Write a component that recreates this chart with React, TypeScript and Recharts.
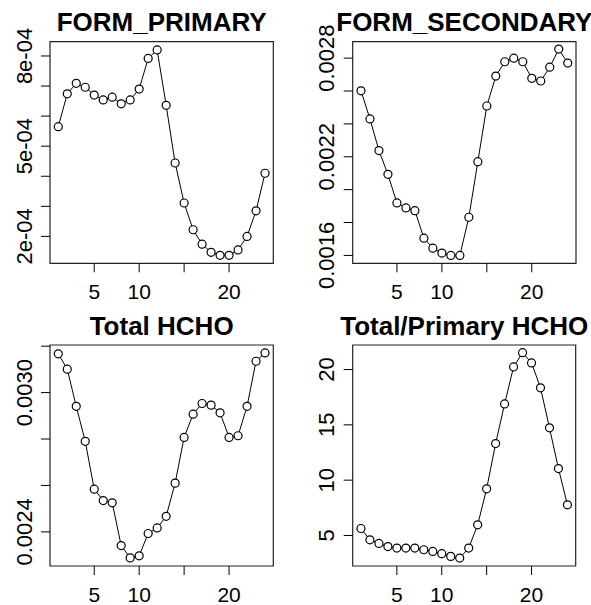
import React from 'react';
import { LineChart, Line, XAxis, YAxis, ReferenceArea } from 'recharts';

const hours = [1, 2, 3, 4, 5, 6, 7, 8, 9, 10, 11, 12, 13, 14, 15, 16, 17, 18, 19, 20, 21, 22, 23, 24];

const formPrimary = [
  5.65e-4, 6.74e-4, 7.09e-4, 6.96e-4, 6.7e-4, 6.54e-4, 6.63e-4, 6.41e-4, 6.54e-4, 6.9e-4, 7.92e-4, 8.2e-4,
  6.36e-4, 4.44e-4, 3.11e-4, 2.22e-4, 1.74e-4, 1.47e-4, 1.37e-4, 1.37e-4, 1.55e-4, 2.0e-4, 2.85e-4, 4.1e-4,
];

const formSecondary = [
  0.002601, 0.00243, 0.002238, 0.002093, 0.001919, 0.001889, 0.001872, 0.001705, 0.001644, 0.001614, 0.0016, 0.0016,
  0.001832, 0.00217, 0.002509, 0.002691, 0.002778, 0.0028, 0.002778, 0.002677, 0.002661, 0.002745, 0.002855, 0.00277,
];

const totalHCHO = [
  0.003167, 0.003101, 0.002941, 0.00279, 0.002584, 0.002535, 0.002525, 0.002341, 0.002288, 0.002297, 0.002393, 0.002417,
  0.002467, 0.00261, 0.002807, 0.002907, 0.002953, 0.002946, 0.002913, 0.002807, 0.002814, 0.002941, 0.003135, 0.003171,
];

const totalPrimaryRatio = [
  5.63, 4.61, 4.28, 4.0, 3.86, 3.86, 3.86, 3.71, 3.56, 3.35, 3.11, 2.96,
  3.86, 5.96, 9.22, 13.31, 16.89, 20.24, 21.53, 20.6, 18.35, 14.73, 11.05, 7.77,
];

const titles = ['FORM_PRIMARY', 'FORM_SECONDARY', 'Total HCHO', 'Total/Primary HCHO'];

const xTicks = [5, 10, 15, 20];
const xTickLabels = ['5', '10', '', '20'];

const yTicksPrimary = [0.0002, 0.0003, 0.0004, 0.0005, 0.0006, 0.0007, 0.0008];
const yLabelsPrimary = ['2e-04', '', '', '5e-04', '', '', '8e-04'];

const yTicksSecondary = [0.0016, 0.0018, 0.002, 0.0022, 0.0024, 0.0026, 0.0028];
const yLabelsSecondary = ['0.0016', '', '', '0.0022', '', '', '0.0028'];

const yTicksTotal = [0.0024, 0.0026, 0.0028, 0.003, 0.0032];
const yLabelsTotal = ['0.0024', '', '', '0.0030', ''];

const yTicksRatio = [5, 10, 15, 20];
const yLabelsRatio = ['5', '10', '15', '20'];

const FONT = '"Liberation Sans", Arial, Helvetica, sans-serif';
const W = 591;
const H = 605;
const X_DOMAIN: [number, number] = [0.08, 24.92];

type PanelDef = {
  values: number[];
  yDomain: [number, number];
  yTicks: number[];
  yLabels: string[];
  box: { l: number; t: number; r: number; b: number };
  title: string;
};

const panels: PanelDef[] = [
  { values: formPrimary, yDomain: [1.105e-4, 8.475e-4], yTicks: yTicksPrimary, yLabels: yLabelsPrimary, box: { l: 50, t: 41.7, r: 273.3, b: 263.3 }, title: titles[0] },
  { values: formSecondary, yDomain: [0.001552, 0.0029], yTicks: yTicksSecondary, yLabels: yLabelsSecondary, box: { l: 352.7, t: 41.7, r: 576, b: 263.3 }, title: titles[1] },
  { values: totalHCHO, yDomain: [0.002253, 0.003205], yTicks: yTicksTotal, yLabels: yLabelsTotal, box: { l: 50, t: 345, r: 273.3, b: 566 }, title: titles[2] },
  { values: totalPrimaryRatio, yDomain: [2.24, 22.22], yTicks: yTicksRatio, yLabels: yLabelsRatio, box: { l: 352.7, t: 345, r: 575.7, b: 566 }, title: titles[3] },
];

const findLabel = (ticks: number[], labels: string[], v: number) => {
  const i = ticks.findIndex((t) => Math.abs(t - v) <= 1e-9 * Math.max(1, Math.abs(t)));
  return i >= 0 ? labels[i] : '';
};

const makeXTick = (ticks: number[], labels: string[]) => (props: any) => {
  const { x, y, payload } = props;
  const label = findLabel(ticks, labels, payload.value);
  if (!label) return <g />;
  return (
    <text x={x} y={y} dy="0.72em" textAnchor="middle" fontSize={21} fontFamily={FONT} fill="#000">
      {label}
    </text>
  );
};

const makeYTick = (ticks: number[], labels: string[]) => (props: any) => {
  const { x, y, payload } = props;
  const label = findLabel(ticks, labels, payload.value);
  if (!label) return <g />;
  return (
    <text transform={`translate(${x},${y}) rotate(-90)`} textAnchor="middle" fontSize={22} fontFamily={FONT} fill="#000">
      {label}
    </text>
  );
};

const YW = 40;
const XH = 40;

function Panel({ p }: { p: PanelDef }) {
  const data = hours.map((h, i) => ({ x: h, y: p.values[i] }));
  const margin = { top: p.box.t, left: p.box.l - YW, right: W - p.box.r, bottom: H - p.box.b - XH };
  return (
    <div style={{ position: 'absolute', left: 0, top: 0 }}>
      <LineChart width={W} height={H} data={data} margin={margin}>
        <XAxis
          dataKey="x"
          type="number"
          domain={X_DOMAIN}
          allowDataOverflow
          ticks={xTicks}
          interval={0}
          height={XH}
          axisLine={false}
          tickSize={9}
          tickMargin={11.5}
          tickLine={{ stroke: '#000', strokeWidth: 1 }}
          tick={makeXTick(xTicks, xTickLabels)}
        />
        <YAxis
          type="number"
          domain={p.yDomain}
          allowDataOverflow
          ticks={p.yTicks}
          interval={0}
          width={YW}
          axisLine={false}
          tickSize={9}
          tickMargin={9.5}
          tickLine={{ stroke: '#000', strokeWidth: 1 }}
          tick={makeYTick(p.yTicks, p.yLabels)}
        />
        <ReferenceArea
          x1={X_DOMAIN[0]}
          x2={X_DOMAIN[1]}
          y1={p.yDomain[0]}
          y2={p.yDomain[1]}
          fill="none"
          fillOpacity={0}
          stroke="#222"
          strokeWidth={1.2}
          ifOverflow="visible"
        />
        <Line
          type="linear"
          dataKey="y"
          stroke="#000"
          strokeWidth={1}
          dot={{ r: 4, fill: '#fff', stroke: '#000', strokeWidth: 1.2 }}
          activeDot={false}
          isAnimationActive={false}
        />
      </LineChart>
    </div>
  );
}

export default function App() {
  return (
    <div style={{ position: 'absolute', left: 0, top: 0, width: W, height: H, background: '#fff', overflow: 'hidden' }}>
      {panels.map((p, i) => (
        <Panel key={i} p={p} />
      ))}
      <svg width={W} height={H} style={{ position: 'absolute', left: 0, top: 0, pointerEvents: 'none' }}>
        {panels.map((p, i) => (
          <text
            key={i}
            x={(p.box.l + p.box.r) / 2}
            y={p.box.t - 10.5}
            textAnchor="middle"
            fontSize={26}
            fontWeight="bold"
            fontFamily={FONT}
            fill="#000"
          >
            {p.title}
          </text>
        ))}
      </svg>
    </div>
  );
}
